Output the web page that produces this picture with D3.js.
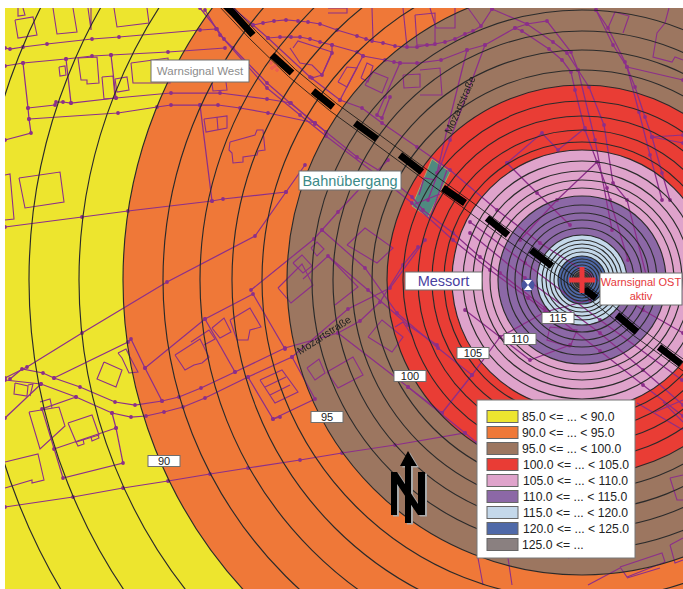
<!DOCTYPE html>
<html>
<head>
    <meta charset="UTF-8">
    <title>Schallimmission Warnsignal</title>
    <script src="https://d3js.org/d3.v7.min.js"></script>
    <style>
        html, body { margin: 0; padding: 0; background: #fff; }
        svg { display: block; font-family: "Liberation Sans", Arial, sans-serif; }
        .road { fill: none; stroke: #8c2f8a; stroke-width: 1.25; }
        .building { fill: none; stroke: #8c2f8a; stroke-width: 1.1; }
        .node { fill: #8c2f8a; }
        .ring { fill: none; stroke: #2b2b2b; stroke-width: 1.15; }
    </style>
</head>
<body>
<svg id="chart" width="683" height="589"></svg>
<script>
// level bands, loudest last
const bandLabels = ["85.0 <= ... < 90.0", "90.0 <= ... < 95.0", "95.0 <= ... < 100.0", "100.0 <= ... < 105.0",
    "105.0 <= ... < 110.0", "110.0 <= ... < 115.0", "115.0 <= ... < 120.0", "120.0 <= ... < 125.0", "125.0 <= ..."];
const bandColors = ["#ede52f", "#ef7838", "#9c7660", "#e93c35", "#dfa3cb", "#8c68a6", "#c4d8ea", "#4f69a8", "#8a8080"];
const bandOuter = [900, 459, 295, 195, 130, 84, 45, 24, 10];   // outer radius of each band
const contours = [606, 553, 503, 459, 419, 382, 350, 320, 295, 270, 249, 230, 210, 195, 179, 164, 150, 138, 130,
    119, 109, 100, 92, 84, 75, 67, 60, 52, 45, 40, 36, 32, 28, 24, 21, 18, 15, 12, 10, 8, 6, 4];
const source = [582, 280];
const messort = [528, 285];

const levelTags = [["90", 164, 461], ["95", 327, 417], ["100", 410, 376], ["105", 473, 353], ["110", 520, 339], ["115", 558, 318]];

const railDashes = [
    [[222, 2], [233, 13], [253, 35]], [[272, 55], [292, 73]], [[313, 91], [333, 107]], [[355, 123], [377, 139]],
    [[400, 155], [422, 172]], [[443, 188], [465, 203]], [[487, 218], [508, 235]], [[531, 250], [552, 266]],
    [[583, 288], [596, 298]], [[617, 315], [637, 332]], [[659, 347], [681, 364]]
];
const railLine = [[222, 2], [253, 35], [292, 73], [333, 107], [377, 139], [422, 172], [465, 203], [508, 235], [552, 266], [596, 298], [637, 332], [690, 370]];

const roads = [
    [[5, 48], [10, 49], [23, 47], [47, 44], [92, 39], [119, 37], [200, 30], [216, 29]],
    [[5, 66], [23, 63], [66, 59], [92, 56], [111, 55], [168, 52], [225, 48]],
    [[23, 63], [28, 108], [29, 119], [31, 133], [5, 140]],
    [[66, 59], [71, 103]],
    [[111, 55], [116, 98]],
    [[28, 108], [55, 105], [56, 102], [63, 102], [71, 103], [116, 98], [171, 93], [220, 93], [267, 99], [291, 103], [315, 124]],
    [[29, 119], [118, 113], [157, 107], [171, 105], [200, 105], [218, 105], [240, 108], [268, 113], [315, 123], [326, 132]],
    [[200, 105], [212, 201]],
    [[5, 227], [82, 217], [128, 211], [212, 201], [223, 199], [286, 192], [305, 165]],
    [[286, 192], [255, 236], [167, 282], [82, 333], [27, 367], [5, 378]],
    [[10, 379], [22, 369], [43, 373], [54, 378], [80, 387], [115, 402], [135, 405], [162, 401], [179, 397], [201, 388], [235, 372], [285, 348], [338, 333], [360, 321], [380, 302], [403, 265], [418, 247]],
    [[5, 380], [41, 384], [76, 397], [112, 413], [131, 417], [146, 416], [164, 412], [183, 407], [205, 398], [248, 377], [292, 357], [348, 309], [390, 288], [425, 240]],
    [[5, 418], [41, 384]],
    [[54, 378], [128, 342], [131, 339], [145, 368], [162, 401]],
    [[145, 368], [205, 319], [253, 294], [285, 349]],
    [[251, 290], [314, 239], [322, 230], [338, 212], [365, 183], [388, 160]],
    [[205, 319], [235, 372]],
    [[322, 230], [365, 268], [397, 313], [438, 348], [472, 375]],
    [[328, 256], [368, 290], [408, 325], [437, 345]],
    [[465, 310], [500, 337]],
    [[76, 397], [42, 409], [63, 478], [123, 463], [116, 428], [112, 413]],
    [[54, 449], [116, 428]],
    [[5, 507], [73, 497], [123, 488], [168, 481], [210, 474], [248, 468], [300, 460], [342, 453], [395, 445], [465, 433], [477, 443]],
    [[248, 377], [273, 419], [315, 399], [292, 357]],
    [[273, 419], [280, 417]],
    [[338, 333], [408, 387], [465, 433]],
    [[442, 413], [472, 375], [500, 337], [545, 312], [590, 300]],
    [[408, 387], [442, 413]],
    // bundle along the rail line
    [[200, 8], [217, 29], [224, 39], [233, 48], [267, 83], [290, 103], [315, 123], [326, 132], [357, 157], [383, 173], [412, 197], [423, 210], [453, 233], [480, 257], [500, 273], [545, 308], [600, 351], [643, 385], [683, 416]],
    [[205, 10], [220, 35], [267, 88], [300, 115], [326, 136], [377, 175], [412, 203], [453, 240], [490, 270], [528, 298], [560, 322]],
    [[233, 8], [253, 25], [268, 38], [310, 77], [340, 100], [362, 108], [382, 123], [417, 147], [450, 170], [497, 210], [540, 243], [590, 275], [643, 310], [683, 333]],
    [[470, 222], [525, 263], [600, 320], [682, 380]],
    [[470, 233], [525, 278], [600, 333], [643, 370], [683, 405]],
    // arcs north of the rail
    [[253, 25], [263, 23], [274, 21], [286, 20], [298, 21], [308, 22], [320, 24], [337, 30], [357, 36], [366, 39], [372, 41], [383, 43], [395, 46], [407, 47], [417, 47], [427, 45], [435, 44], [445, 42], [455, 39], [465, 34], [473, 31], [481, 26], [492, 9]],
    [[268, 38], [280, 37], [291, 37], [300, 37], [310, 39], [320, 42], [332, 45], [357, 52], [363, 56], [385, 60], [394, 62], [400, 63], [417, 63], [441, 60], [467, 50], [485, 45], [515, 28], [527, 24], [547, 21], [571, 52], [578, 70], [589, 87], [604, 125], [613, 183], [627, 200], [650, 290]],
    [[492, 9], [527, 24], [553, 42], [567, 53], [578, 70], [595, 140], [612, 230]],
    [[515, 28], [522, 31], [549, 49], [562, 60], [571, 72], [575, 90], [585, 130], [597, 162], [607, 188], [610, 200], [628, 260]],
    [[596, 10], [608, 28], [625, 62], [635, 87], [645, 117], [652, 137], [662, 173], [670, 200]],
    [[596, 10], [613, 45], [627, 67], [639, 112], [650, 155], [662, 200]],
    [[627, 67], [683, 80]],
    [[652, 137], [683, 143]],
    [[652, 137], [683, 135]],
    [[467, 50], [447, 130], [437, 173]],
    [[485, 45], [450, 140], [428, 200]],
    [[507, 163], [542, 133], [558, 150], [585, 128]],
    [[507, 163], [537, 193], [570, 225]],
    [[597, 162], [557, 200], [520, 240]],
    [[332, 45], [332, 53], [322, 75], [312, 78]],
    [[363, 56], [340, 100]],
    [[400, 63], [385, 97], [377, 115], [382, 118], [390, 97]],
    [[500, 337], [530, 360], [570, 345]]
];

const buildings = [
    [[15, 20], [33, 17], [37, 35], [18, 38], [15, 20]],
    [[18, 8], [18, 16], [25, 15], [23, 8]],
    [[53, 8], [57, 34], [77, 32], [73, 8]],
    [[88, 8], [91, 30], [91, 8]],
    [[114, 8], [117, 27], [149, 23], [147, 8]],
    [[59, 67], [65, 66], [66, 75], [60, 76], [59, 67]],
    [[78, 58], [97, 57], [99, 83], [87, 84], [87, 80], [81, 80], [78, 58]],
    [[102, 77], [113, 76], [115, 98], [104, 99], [102, 77]],
    [[115, 79], [127, 77], [129, 90], [117, 92], [115, 79]],
    [[131, 63], [168, 58], [170, 83], [133, 83], [131, 63]],
    [[19, 178], [60, 172], [64, 202], [25, 208], [19, 178]],
    [[5, 175], [10, 174], [14, 219], [5, 220]],
    [[204, 119], [227, 116], [227, 128], [206, 132], [204, 119]],
    [[217, 117], [218, 130]],
    [[230, 142], [255, 135], [257, 130], [263, 130], [265, 150], [258, 151], [257, 155], [243, 157], [243, 162], [233, 163], [232, 153], [229, 150], [230, 142]],
    [[212, 83], [213, 91], [227, 90], [226, 82]],
    [[15, 383], [28, 386], [27, 396], [14, 394], [15, 383]],
    [[28, 385], [33, 384], [30, 396]],
    [[118, 353], [122, 358], [129, 373], [138, 372], [130, 357], [126, 349], [118, 353]],
    [[104, 362], [122, 370], [116, 387], [97, 379], [104, 362]],
    [[40, 402], [50, 399], [52, 408]],
    [[29, 412], [59, 407], [65, 426], [40, 449], [29, 412]],
    [[68, 423], [92, 415], [99, 435], [76, 442], [68, 423]],
    [[76, 442], [78, 446], [84, 444], [83, 439]],
    [[91, 437], [92, 441], [99, 438], [98, 435]],
    [[5, 462], [38, 454], [44, 480], [32, 483], [32, 480], [5, 488]],
    [[175, 355], [200, 339], [209, 357], [202, 363], [194, 365], [185, 370], [175, 355]],
    [[191, 342], [209, 330], [215, 339], [204, 345]],
    [[212, 328], [224, 318], [231, 332], [220, 338], [212, 328]],
    [[230, 320], [250, 308], [261, 327], [250, 330], [248, 340], [237, 340], [230, 320]],
    [[260, 380], [282, 370], [298, 392], [275, 403], [260, 380]],
    [[265, 387], [286, 377]],
    [[270, 395], [290, 385]],
    [[307, 368], [319, 359], [325, 373], [315, 380], [307, 368]],
    [[327, 372], [353, 357], [363, 375], [338, 388], [327, 372]],
    [[368, 337], [382, 320], [403, 337], [392, 352], [368, 337]],
    [[395, 327], [403, 322], [413, 337]],
    [[293, 263], [302, 255], [312, 266], [303, 273], [293, 263]],
    [[278, 288], [302, 264], [313, 285], [291, 303], [278, 288]],
    [[311, 248], [317, 242], [324, 249], [317, 256], [311, 248]],
    [[303, 279], [328, 256], [358, 287], [335, 305]],
    [[347, 245], [365, 228], [393, 248], [377, 263], [347, 245]],
    [[293, 48], [298, 41], [332, 52], [322, 75], [312, 65], [300, 63], [290, 48]],
    [[338, 82], [347, 67], [357, 68], [347, 87], [338, 82]],
    [[361, 78], [367, 63], [373, 66], [368, 82], [361, 78]],
    [[365, 85], [373, 72], [388, 78], [382, 93], [365, 85]],
    [[328, 8], [347, 8], [347, 13], [328, 13]],
    [[372, 8], [373, 40]],
    [[403, 75], [420, 74], [420, 87], [404, 88], [403, 75]],
    [[420, 70], [440, 68], [442, 95], [420, 95]],
    [[415, 15], [435, 13], [435, 45], [417, 45], [415, 15]],
    [[403, 8], [407, 47]],
    [[430, 8], [436, 28], [455, 28], [455, 8]],
    [[468, 8], [481, 26]],
    [[608, 28], [615, 12], [629, 16], [623, 33]],
    [[669, 8], [665, 23], [657, 33], [653, 57], [672, 62], [675, 57], [683, 60]],
    [[550, 327], [577, 330], [570, 347], [547, 340], [550, 327]],
    [[663, 402], [683, 422]],
    [[655, 412], [683, 400]],
    [[620, 567], [662, 553], [665, 562], [627, 577], [620, 567]],
    [[627, 578], [660, 568]],
    [[588, 585], [620, 568]],
    [[670, 478], [683, 475]],
    [[670, 478], [677, 500], [683, 500]],
    [[670, 545], [683, 538]],
    [[670, 545], [675, 563], [683, 560]],
    [[568, 558], [585, 553]],
    [[508, 558], [512, 585]],
    [[478, 558], [483, 585]],
    [[637, 403], [683, 430]]
];

const crossing = [[432, 159], [450, 172], [428, 217], [412, 206]];
const crossingTracks = [[[419, 195], [424, 178], [436, 180]], [[415, 204], [440, 194]], [[430, 218], [447, 170]]];
const westMarks = [[271, 63], [275, 66], [272, 68], [277, 70]];

const width = 683, height = 589;
const svg = d3.select("#chart");

// map units in pixels
const sx = d3.scaleLinear().domain([0, 683]).range([0, width]);
const sy = d3.scaleLinear().domain([0, 589]).range([0, height]);
const sr = d3.scaleLinear().domain([0, 683]).range([0, width]);
const line = d3.line().x(d => sx(d[0])).y(d => sy(d[1]));

const defs = svg.append("defs");
defs.append("clipPath").attr("id", "map").append("rect")
    .attr("x", 5).attr("y", 8).attr("width", 678).attr("height", 581);
defs.append("filter").attr("id", "soft").append("feGaussianBlur").attr("stdDeviation", 0.35);

const map = svg.append("g").attr("clip-path", "url(#map)").append("g").attr("filter", "url(#soft)");

map.selectAll(".band").data(bandOuter).enter().append("circle")
    .attr("class", "band")
    .attr("cx", sx(source[0])).attr("cy", sy(source[1]))
    .attr("r", d => sr(d))
    .attr("fill", (d, i) => bandColors[i]);

map.append("path").attr("d", line(crossing) + "Z")
    .attr("fill", "#4f8a80").attr("stroke", "#a9a36a").attr("stroke-width", 1);

map.selectAll(".building").data(buildings).enter().append("path")
    .attr("class", "building").attr("d", line);

map.selectAll(".road").data(roads).enter().append("path")
    .attr("class", "road").attr("d", line);

map.selectAll(".track").data(crossingTracks).enter().append("path")
    .attr("class", "road").attr("d", line);

map.selectAll(".node").data(roads.flat()).enter().append("circle")
    .attr("class", "node")
    .attr("cx", d => sx(d[0])).attr("cy", d => sy(d[1])).attr("r", 1.9);

map.selectAll(".ring").data(contours).enter().append("circle")
    .attr("class", "ring")
    .attr("cx", sx(source[0])).attr("cy", sy(source[1]))
    .attr("r", d => sr(d));

// rail: two thin rails and the heavy dashes
[-3.5, 3.5].forEach(off => {
    map.append("path").attr("d", line(railLine))
        .attr("fill", "none").attr("stroke", "#111").attr("stroke-width", 0.8)
        .attr("transform", `translate(${off},${-off})`);
});
map.selectAll(".dash").data(railDashes).enter().append("path")
    .attr("class", "dash").attr("d", line)
    .attr("fill", "none").attr("stroke", "#000").attr("stroke-width", 7);

map.selectAll(".west").data(westMarks).enter().append("circle")
    .attr("cx", d => sx(d[0])).attr("cy", d => sy(d[1])).attr("r", 1.3)
    .attr("fill", "none").attr("stroke", "#e8456a").attr("stroke-width", 0.8);

// measuring point
map.append("circle").attr("cx", sx(messort[0])).attr("cy", sy(messort[1])).attr("r", 6.5).attr("fill", "#4a55a0");
map.append("path")
    .attr("transform", `translate(${sx(messort[0])},${sy(messort[1])})`)
    .attr("d", "M-4,-5L4,-5L0,0L4,5L-4,5L0,0Z").attr("fill", "#fff");

// source cross
const cross = map.append("g").attr("transform", `translate(${sx(source[0])},${sy(source[1])})`);
cross.append("circle").attr("r", 9).attr("fill", "#333").attr("opacity", 0.75);
cross.append("path").attr("d", "M-13,0H13M0,-13V13").attr("stroke", "#e8383a").attr("stroke-width", 5).attr("fill", "none");

// street names
const streets = [["Mozartstraße", 460, 105, -66], ["Mozartstraße", 324, 335, -33]];
map.selectAll(".street").data(streets).enter().append("text")
    .attr("class", "street")
    .attr("transform", d => `translate(${sx(d[1])},${sy(d[2])}) rotate(${d[3]})`)
    .attr("text-anchor", "middle").attr("dy", "0.35em")
    .attr("font-size", 10.5).attr("fill", "#222").text(d => d[0]);

// north arrow
const north = map.append("g");
const northD = "M408,451L417,466H411V523H405V466H400Z M391,472H397L418,504V472H425V515H418L397,484V515H391Z";
north.append("path").attr("d", northD).attr("fill", "#aaa").attr("transform", "translate(2,1.5)");
north.append("path").attr("d", northD).attr("fill", "#000");

// labelled boxes
function box(x, y, w, h, lines, color, size) {
    const g = svg.append("g");
    g.append("rect").attr("x", x).attr("y", y).attr("width", w).attr("height", h)
        .attr("fill", "#fff").attr("stroke", "#6f6f6f").attr("stroke-width", 1);
    lines.forEach((t, i) => {
        g.append("text")
            .attr("x", x + w / 2)
            .attr("y", y + h / 2 + (i - (lines.length - 1) / 2) * (size + 3))
            .attr("dy", "0.36em").attr("text-anchor", "middle")
            .attr("font-size", size).attr("fill", color).text(t);
    });
}

box(151, 60, 98, 22, ["Warnsignal West"], "#8c8c8c", 11.5);
box(299, 171, 102, 19, ["Bahnübergang"], "#3c8a88", 14.5);
box(405, 272, 77, 18, ["Messort"], "#4a3f9f", 14.5);
box(600, 273, 82, 32, ["Warnsignal OST", "aktiv"], "#e5393c", 11);

levelTags.forEach(d => box(sx(d[1]) - 16, sy(d[2]) - 5.5, 32, 11, [d[0]], "#222", 11));

// legend
const legend = svg.append("g");
legend.append("rect").attr("x", 477).attr("y", 400).attr("width", 158).attr("height", 158)
    .attr("fill", "#fff").attr("stroke", "#777").attr("stroke-width", 1);
const rowY = d3.scaleBand().domain(d3.range(bandLabels.length)).range([408.5, 552.5]);
const row = legend.selectAll(".row").data(bandLabels).enter().append("g")
    .attr("class", "row").attr("transform", (d, i) => `translate(0,${rowY(i)})`);
row.append("rect").attr("x", 487).attr("y", 2).attr("width", 31).attr("height", 12)
    .attr("fill", (d, i) => bandColors[i]).attr("stroke", "#666").attr("stroke-width", 1);
row.append("text").attr("x", (d, i) => i >= 3 && i < 8 ? 523 : 522).attr("y", 8).attr("dy", "0.36em")
    .attr("font-size", 12.2).attr("fill", "#222").text(d => d);
</script>
</body>
</html>
